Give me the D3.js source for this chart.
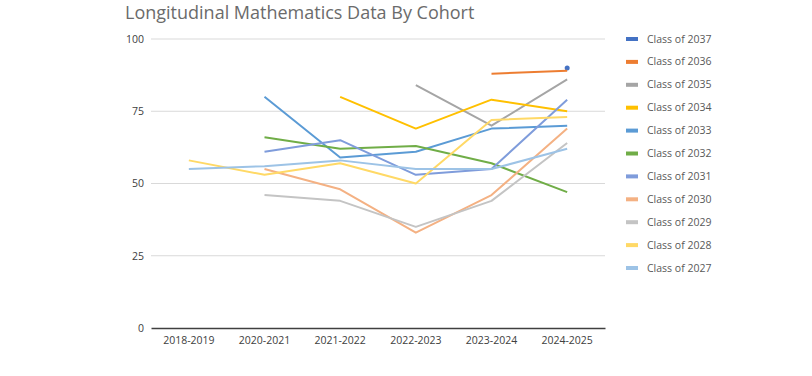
<!DOCTYPE html>
<html>
<head>
<meta charset="utf-8">
<script src="https://cdn.jsdelivr.net/npm/d3@7"></script>
<style>
  body { margin: 0; background: #fff; }
  svg { font-family: "Open Sans", "Noto Sans", sans-serif; }
</style>
</head>
<body>
<div id="chart"></div>
<script>
// school years on the x axis
const years = ["2018-2019", "2020-2021", "2021-2022", "2022-2023", "2023-2024", "2024-2025"];
const yTicks = [0, 25, 50, 75, 100];

// one array per cohort, null where there is no score
const c2037 = [null, null, null, null, null, 90];
const c2036 = [null, null, null, null, 88, 89];
const c2035 = [null, null, null, 84, 70, 86];
const c2034 = [null, null, 80, 69, 79, 75];
const c2033 = [null, 80, 59, 61, 69, 70];
const c2032 = [null, 66, 62, 63, 57, 47];
const c2031 = [null, 61, 65, 53, 55, 79];
const c2030 = [null, 55, 48, 33, 46, 69];
const c2029 = [null, 46, 44, 35, 44, 64];
const c2028 = [58, 53, 57, 50, 72, 73];
const c2027 = [55, 56, 58, 55, 55, 62];

const names = ["Class of 2037", "Class of 2036", "Class of 2035", "Class of 2034", "Class of 2033",
  "Class of 2032", "Class of 2031", "Class of 2030", "Class of 2029", "Class of 2028", "Class of 2027"];
const colors = ["#4472C4", "#ED7D31", "#A5A5A5", "#FFC000", "#5B9BD5",
  "#70AD47", "#7F9CDB", "#F4B183", "#C4C4C4", "#FFD966", "#9DC3E6"];

const series = [c2037, c2036, c2035, c2034, c2033, c2032, c2031, c2030, c2029, c2028, c2027]
  .map((vals, i) => ({ name: names[i], color: colors[i], vals: vals }));

const svg = d3.select("#chart")
  .append("svg")
    .attr("width", 812)
    .attr("height", 376);

const x = d3.scaleBand()
  .domain(years)
  .range([151, 605]);

const y = d3.scaleLinear()
  .domain([0, 100])
  .range([328, 39]);

// title
svg.append("text")
  .attr("x", 125)
  .attr("y", 19)
  .attr("font-size", 18)
  .attr("fill", "#6b6b6b")
  .text("Longitudinal Mathematics Data By Cohort");

// gridlines
svg.append("g")
  .selectAll("line")
  .data(yTicks.filter(d => d > 0))
  .join("line")
    .attr("x1", 151)
    .attr("x2", 605)
    .attr("y1", d => y(d))
    .attr("y2", d => y(d))
    .attr("stroke", "#d9d9d9")
    .attr("stroke-width", 1);

// y axis labels
const yAxis = svg.append("g")
  .attr("transform", "translate(151,0)")
  .call(d3.axisLeft(y).tickValues(yTicks).tickSize(0).tickPadding(7));
yAxis.select(".domain").remove();
yAxis.selectAll("text")
  .attr("font-family", "Open Sans, sans-serif")
  .attr("font-size", 10.5)
  .attr("fill", "#404040");

// x axis
const xAxis = svg.append("g")
  .attr("transform", "translate(0,328)")
  .call(d3.axisBottom(x).tickSize(0).tickPadding(9));
xAxis.select(".domain")
  .attr("stroke", "#404040")
  .attr("stroke-width", 1.5);
xAxis.selectAll("text")
  .attr("font-family", "Open Sans, sans-serif")
  .attr("font-size", 10.5)
  .attr("fill", "#404040");

const cx = d => x(d) + x.bandwidth() / 2;

const line = d3.line()
  .defined(d => d.v !== null)
  .x(d => cx(d.year))
  .y(d => y(d.v));

series.forEach(s => {
  const pts = s.vals.map((v, i) => ({ year: years[i], v: v }));
  svg.append("path")
    .datum(pts)
    .attr("d", line)
    .attr("fill", "none")
    .attr("stroke", s.color)
    .attr("stroke-width", 2)
    .attr("stroke-linejoin", "round");

  // lone values get a dot, as the spreadsheet does
  const lone = pts.filter((d, i) => d.v !== null &&
    (i === 0 || pts[i - 1].v === null) &&
    (i === pts.length - 1 || pts[i + 1].v === null));
  svg.selectAll(null)
    .data(lone)
    .enter()
    .append("circle")
      .attr("cx", d => cx(d.year))
      .attr("cy", d => y(d.v))
      .attr("r", 2.5)
      .attr("fill", s.color);
});

// legend
const legend = svg.append("g")
  .selectAll("g")
  .data(series)
  .join("g")
    .attr("transform", (d, i) => `translate(626,${39 + i * 22.9})`);

legend.append("rect")
  .attr("x", 0)
  .attr("y", -2)
  .attr("width", 12)
  .attr("height", 4)
  .attr("fill", d => d.color);

legend.append("text")
  .attr("x", 21)
  .attr("y", 3.5)
  .attr("font-size", 10.5)
  .attr("fill", "#595959")
  .text(d => d.name);
</script>
</body>
</html>
